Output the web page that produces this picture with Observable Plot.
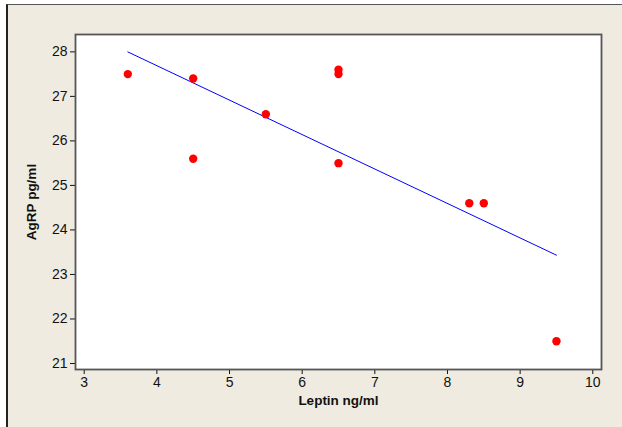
<!DOCTYPE html>
<html>
<head>
<meta charset="utf-8">
<script src="https://cdn.jsdelivr.net/npm/d3@7"></script>
<script src="https://cdn.jsdelivr.net/npm/@observablehq/plot@0.6"></script>
<style>
  html, body { margin: 0; padding: 0; background: #ffffff; }
  #wrap { position: relative; width: 622px; height: 427px; overflow: hidden; }
  #bg { position: absolute; left: 6px; top: 4px; width: 620px; height: 422px;
        background: #efebe1; border-left: 2px solid #222; border-top: 1px solid #555; }
  #chart { position: absolute; left: 0; top: 0; }
  #chart svg { background: transparent !important; }
</style>
</head>
<body>
<div id="wrap"><div id="bg"></div><div id="chart"></div></div>
<script>
const leptin = [3.6, 4.5, 4.5, 5.5, 6.5, 6.5, 6.5, 8.3, 8.5, 9.5];
const agrp   = [27.5, 27.4, 25.6, 26.6, 27.6, 27.5, 25.5, 24.6, 24.6, 21.5];
const xTicks = [3, 4, 5, 6, 7, 8, 9, 10];
const yTicks = [21, 22, 23, 24, 25, 26, 27, 28];

const data = leptin.map((x, i) => ({x, y: agrp[i]}));

const chart = Plot.plot({
  width: 622,
  height: 427,
  marginLeft: 75,
  marginTop: 34,
  marginRight: 21,
  marginBottom: 58,
  style: {fontFamily: "Liberation Sans, Arial, sans-serif", fontSize: "14px", color: "#111", background: "transparent"},
  x: {domain: [2.88, 10.12]},
  y: {domain: [20.865, 28.39]},
  marks: [
    Plot.frame({fill: "white", stroke: null}),
    Plot.axisX({ticks: xTicks, tickSize: 5, tickPadding: 3,
      label: "Leptin ng/ml", labelAnchor: "center", labelArrow: "none", labelOffset: 35}),
    Plot.axisY({ticks: yTicks, tickSize: 5, tickPadding: 3,
      label: "AgRP pg/ml", labelAnchor: "center", labelArrow: "none", labelOffset: 49}),
    Plot.linearRegressionY(data, {x: "x", y: "y", stroke: "#0000ff", strokeWidth: 1, ci: 0}),
    Plot.dot(data, {x: "x", y: "y", r: 4.2, fill: "#ff0000", stroke: "none"}),
    Plot.frame({stroke: "#555", strokeWidth: 1.8})
  ]
});
d3.select(chart).selectAll("[aria-label^='x-axis tick label'], [aria-label^='y-axis tick label']")
  .attr("font-size", "14px");
d3.select(chart).selectAll("[aria-label$='axis label']")
  .attr("font-weight", "bold").attr("font-size", "13.5px");
document.getElementById("chart").appendChild(chart);
</script>
</body>
</html>
